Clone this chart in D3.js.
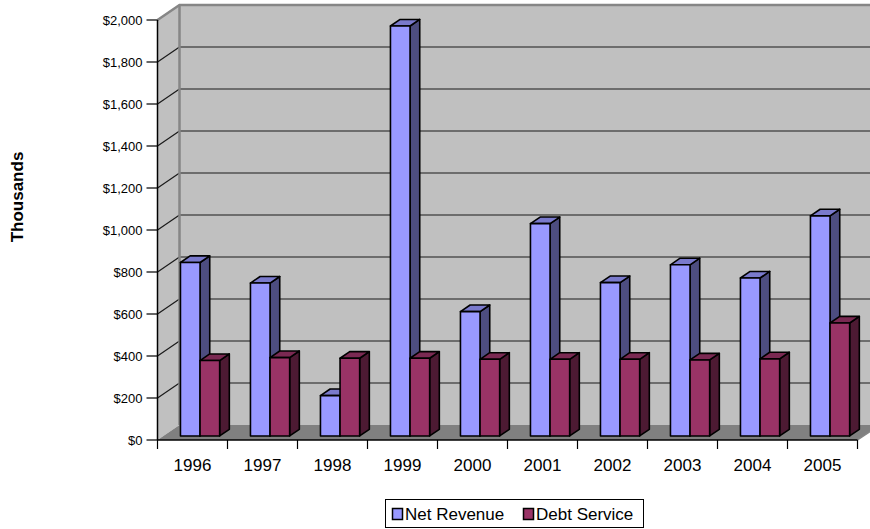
<!DOCTYPE html>
<html>
<head>
<meta charset="utf-8">
<script src="https://cdnjs.cloudflare.com/ajax/libs/d3/7.8.5/d3.min.js"></script>
<style>
  html, body { margin: 0; padding: 0; background: #fff; }
  svg { display: block; font-family: "Liberation Sans", Arial, sans-serif; }
</style>
</head>
<body>
<svg id="chart" width="870" height="529"></svg>
<script>
// Yearly figures, in thousands of dollars
const categories = ["1996", "1997", "1998", "1999", "2000", "2001", "2002", "2003", "2004", "2005"];
const netRevenue = [826, 728, 192, 1952, 592, 1011, 730, 815, 752, 1048];
const debtService = [359, 373, 370, 370, 365, 365, 365, 362, 367, 538];
const yTicks = [0, 200, 400, 600, 800, 1000, 1200, 1400, 1600, 1800, 2000];
const seriesNames = ["Net Revenue", "Debt Service"];

const svg = d3.select("#chart");

// Plot frame and 3D projection offsets (back wall is shifted by depth)
const pLeft = 157.5, pRight = 857.5, pBottom = 440, pTop = 20;
const depth = { x: 22, y: -15 };
const barFront = 0.27, barBack = 0.71;

const x = d3.scaleBand().domain(categories).range([pLeft, pRight]).paddingInner(0).paddingOuter(0);
const y = d3.scaleLinear().domain([0, 2000]).range([pBottom, pTop]);

const colors = {
  net:  { front: "#9999ff", side: "#4d4d80", top: "#7a7acc" },
  debt: { front: "#993366", side: "#4d1a33", top: "#7a2952" }
};

// Side wall
svg.append("polygon")
  .attr("points", [[pLeft, pBottom], [pLeft, pTop], [pLeft + depth.x, pTop + depth.y], [pLeft + depth.x, pBottom + depth.y]].join(" "))
  .attr("fill", "#c0c0c0");

// Back wall
svg.append("rect")
  .attr("x", pLeft + depth.x).attr("y", pTop + depth.y)
  .attr("width", pRight - pLeft).attr("height", pBottom - pTop)
  .attr("fill", "#c0c0c0");

// Floor
svg.append("polygon")
  .attr("points", [[pLeft, pBottom], [pRight, pBottom], [pRight + depth.x, pBottom + depth.y], [pLeft + depth.x, pBottom + depth.y]].join(" "))
  .attr("fill", "#808080");

// Gridlines on back wall and side wall
const grid = svg.append("g");
yTicks.filter(v => v > 0 && v < 2000).forEach(v => {
  const yy = y(v);
  grid.append("line")
    .attr("x1", pLeft + depth.x).attr("x2", pRight + depth.x)
    .attr("y1", yy + depth.y).attr("y2", yy + depth.y)
    .attr("stroke", "#1a1a1a").attr("stroke-width", 1.2);
  grid.append("line")
    .attr("x1", pLeft).attr("x2", pLeft + depth.x)
    .attr("y1", yy).attr("y2", yy + depth.y)
    .attr("stroke", "#1a1a1a").attr("stroke-width", 1.2);
});

// Wall outlines
const wallEdge = "#868686";
svg.append("path")
  .attr("d", `M${pLeft},${pTop} L${pLeft + depth.x},${pTop + depth.y} L${pRight + depth.x},${pTop + depth.y}`)
  .attr("fill", "none").attr("stroke", wallEdge).attr("stroke-width", 2.5);
svg.append("line")
  .attr("x1", pLeft + depth.x).attr("x2", pLeft + depth.x)
  .attr("y1", pTop + depth.y).attr("y2", pBottom + depth.y)
  .attr("stroke", wallEdge).attr("stroke-width", 2.5);
svg.append("line")
  .attr("x1", pRight).attr("y1", pBottom)
  .attr("x2", pRight + depth.x).attr("y2", pBottom + depth.y)
  .attr("stroke", wallEdge).attr("stroke-width", 1.5);

// Value axis
const yAxis = svg.append("g");
yAxis.append("line").attr("x1", pLeft).attr("x2", pLeft).attr("y1", pTop).attr("y2", pBottom)
  .attr("stroke", "#000").attr("stroke-width", 1.5);
const fmt = d3.format("$,");
yTicks.forEach(v => {
  yAxis.append("line").attr("x1", pLeft - 11).attr("x2", pLeft).attr("y1", y(v)).attr("y2", y(v))
    .attr("stroke", "#000").attr("stroke-width", 1.2);
  yAxis.append("text").attr("x", pLeft - 15).attr("y", y(v)).attr("dy", "0.35em")
    .attr("text-anchor", "end").attr("font-size", 13).attr("fill", "#000")
    .text(fmt(v));
});

// Category axis
const xAxis = svg.append("g");
xAxis.append("line").attr("x1", pLeft).attr("x2", pRight).attr("y1", pBottom).attr("y2", pBottom)
  .attr("stroke", "#000").attr("stroke-width", 1.5);
categories.concat([null]).forEach(c => {
  const xx = c === null ? pRight : x(c);
  xAxis.append("line").attr("x1", xx).attr("x2", xx).attr("y1", pBottom).attr("y2", pBottom + 9)
    .attr("stroke", "#000").attr("stroke-width", 1.2);
});
categories.forEach(c => {
  xAxis.append("text").attr("x", x(c) + x.bandwidth() / 2).attr("y", pBottom + 25)
    .attr("dy", "0.35em").attr("text-anchor", "middle").attr("font-size", 17).attr("fill", "#000")
    .text(c);
});

// Axis title
svg.append("text")
  .attr("transform", `translate(23,197) rotate(-90)`)
  .attr("text-anchor", "middle").attr("font-size", 17).attr("font-weight", "bold")
  .text("Thousands");

// 3D bars
const fx = depth.x * barFront, fy = depth.y * barFront;
const bdx = depth.x * (barBack - barFront), bdy = depth.y * (barBack - barFront);
const barW = x.bandwidth() * 0.28;
const barOffset = x.bandwidth() * 0.243;

function drawBar(g, x0, v, c) {
  const x1 = x0 + barW;
  const yb = y(0) + fy, yt = y(v) + fy;
  const side = g.append("polygon")
    .attr("points", [[x1, yb], [x1, yt], [x1 + bdx, yt + bdy], [x1 + bdx, yb + bdy]].join(" "))
    .attr("fill", c.side);
  const topFace = g.append("polygon")
    .attr("points", [[x0, yt], [x1, yt], [x1 + bdx, yt + bdy], [x0 + bdx, yt + bdy]].join(" "))
    .attr("fill", c.top);
  const front = g.append("rect")
    .attr("x", x0).attr("y", yt).attr("width", barW).attr("height", yb - yt)
    .attr("fill", c.front);
  [side, topFace, front].forEach(s => s
    .attr("stroke", "#000").attr("stroke-width", 1.6).attr("stroke-linejoin", "round"));
}

const bars = svg.append("g");
categories.forEach((c, i) => {
  const gx = x(c) + barOffset + fx;
  drawBar(bars.append("g"), gx, netRevenue[i], colors.net);
  drawBar(bars.append("g"), gx + barW, debtService[i], colors.debt);
});

// Legend
const legend = svg.append("g");
legend.append("rect").attr("x", 385.5).attr("y", 499.5).attr("width", 258).attr("height", 28)
  .attr("fill", "#fff").attr("stroke", "#000").attr("stroke-width", 1);
const legendItems = [
  { name: seriesNames[0], color: colors.net.front, x: 392 },
  { name: seriesNames[1], color: colors.debt.front, x: 523 }
];
legendItems.forEach(it => {
  legend.append("rect").attr("x", it.x + 0.5).attr("y", 508.5).attr("width", 10).attr("height", 11)
    .attr("fill", it.color).attr("stroke", "#000").attr("stroke-width", 1.5);
  legend.append("text").attr("x", it.x + 13).attr("y", 514).attr("dy", "0.35em")
    .attr("font-size", 17).attr("fill", "#000").text(it.name);
});
</script>
</body>
</html>
